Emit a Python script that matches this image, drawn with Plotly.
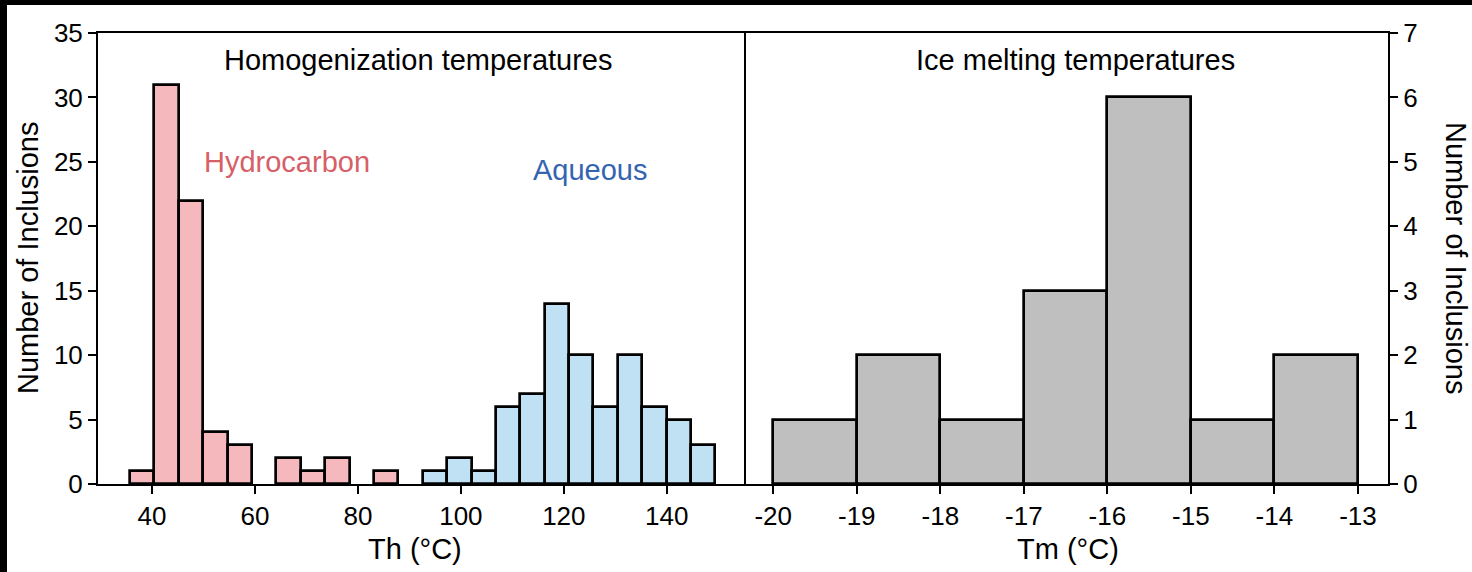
import plotly.graph_objects as go
from plotly.subplots import make_subplots

# ---- data ----
# Homogenization temperature bins (left edges, °C) and common bin width
th_bin_left = [35.70, 40.44, 45.18, 49.92, 54.66, 59.40, 64.14, 68.88, 73.62, 78.36, 83.10, 87.84,
               92.58, 97.32, 102.06, 106.80, 111.54, 116.28, 121.02, 125.76, 130.50, 135.24, 139.98, 144.72]
th_bin_width = 4.74
hydrocarbon_counts = [1, 31, 22, 4, 3, 0, 2, 1, 2, 0, 1, 0,
                      0, 0, 0, 0, 0, 0, 0, 0, 0, 0, 0, 0]
aqueous_counts = [0, 0, 0, 0, 0, 0, 0, 0, 0, 0, 0, 0,
                  1, 2, 1, 6, 7, 14, 10, 6, 10, 6, 5, 3]

# Ice melting temperature bins (left edges, °C)
tm_bin_left = [-20, -19, -18, -17, -16, -15, -14]
tm_bin_width = 1
tm_counts = [1, 2, 1, 3, 6, 1, 2]

th_ticks = [40, 60, 80, 100, 120, 140]
th_counts_ticks = [0, 5, 10, 15, 20, 25, 30, 35]
tm_ticks = [-20, -19, -18, -17, -16, -15, -14, -13]
tm_counts_ticks = [0, 1, 2, 3, 4, 5, 6, 7]

# ---- styling ----
FONT = "Liberation Sans, Arial, Helvetica, sans-serif"
PINK = "#f5b9bd"
BLUE = "#c0e0f4"
GREY = "#bfbfbf"
EDGE = dict(color="black", width=2.7)
FS = 26   # tick labels
FL = 29   # titles / labels

fig = make_subplots(rows=1, cols=2, horizontal_spacing=0)


def bars(lefts, width, counts, color, name, col):
    xs = [l + width / 2 for l, c in zip(lefts, counts) if c > 0]
    ys = [c for c in counts if c > 0]
    fig.add_trace(go.Bar(x=xs, y=ys, width=[width] * len(xs), name=name,
                         marker=dict(color=color, line=EDGE), showlegend=False),
                  row=1, col=col)


bars(th_bin_left, th_bin_width, hydrocarbon_counts, PINK, "Hydrocarbon", 1)
bars(th_bin_left, th_bin_width, aqueous_counts, BLUE, "Aqueous", 1)
bars(tm_bin_left, tm_bin_width, tm_counts, GREY, "Ice melting", 2)

ML, MR, MT, MB = 98, 84, 33, 88
W, H = 1472, 572
PW = W - ML - MR
PH = H - MT - MB
split = (744 - ML) / PW

axis_common = dict(showline=True, linecolor="black", linewidth=2, ticks="outside",
                   ticklen=8, tickwidth=2, tickcolor="black", showgrid=False,
                   zeroline=False, tickfont=dict(family=FONT, size=FS, color="black"))

fig.update_layout(
    width=W, height=H,
    margin=dict(l=ML, r=MR, t=MT, b=MB),
    paper_bgcolor="white", plot_bgcolor="white",
    bargap=0, barmode="overlay",
    font=dict(family=FONT, size=FS, color="black"),
    xaxis=dict(domain=[0, split], range=[29.5, 155.0], tickvals=th_ticks, mirror=True, **axis_common),
    yaxis=dict(range=[0, 35], tickvals=th_counts_ticks, mirror=True, **axis_common),
    xaxis2=dict(domain=[split, 1], range=[-20.35, -12.64], tickvals=tm_ticks,
                ticktext=[str(t) for t in tm_ticks], mirror=True, **axis_common),
    yaxis2=dict(range=[0, 7], tickvals=tm_counts_ticks, side="right", anchor="x2", **axis_common),
)


def px_x(px):
    return (px - ML) / PW


def px_y(py):
    return (H - MB - py) / PH


annotations = [
    dict(text="Homogenization temperatures", x=px_x(418), y=px_y(60), color="black"),
    dict(text="Ice melting temperatures", x=px_x(1075), y=px_y(60), color="black"),
    dict(text="Hydrocarbon", x=px_x(287), y=px_y(162), color="#d75f68"),
    dict(text="Aqueous", x=px_x(590), y=px_y(170), color="#3464b0"),
    dict(text="Th (°C)", x=px_x(415), y=px_y(549), color="black"),
    dict(text="Tm (°C)", x=px_x(1068), y=px_y(549), color="black"),
    dict(text="Number of Inclusions", x=px_x(28), y=px_y(258), color="black", angle=-90),
    dict(text="Number of Inclusions", x=px_x(1456), y=px_y(258), color="black", angle=90),
]
for a in annotations:
    fig.add_annotation(text=a["text"], x=a["x"], y=a["y"], xref="paper", yref="paper",
                       xanchor="center", yanchor="middle", showarrow=False,
                       textangle=a.get("angle", 0),
                       font=dict(family=FONT, size=FL, color=a["color"]))

# black frame strips at the top and left edge of the picture
fig.add_shape(type="rect", xref="paper", yref="paper", x0=px_x(0), x1=px_x(W), y0=px_y(5), y1=px_y(0),
              fillcolor="black", line=dict(width=0), layer="above")
fig.add_shape(type="rect", xref="paper", yref="paper", x0=px_x(0), x1=px_x(7), y0=px_y(H), y1=px_y(0),
              fillcolor="black", line=dict(width=0), layer="above")

fig.write_html("out.html", config={"displayModeBar": False},
               post_script="document.body.style.margin='0';document.body.style.overflow='hidden';")
